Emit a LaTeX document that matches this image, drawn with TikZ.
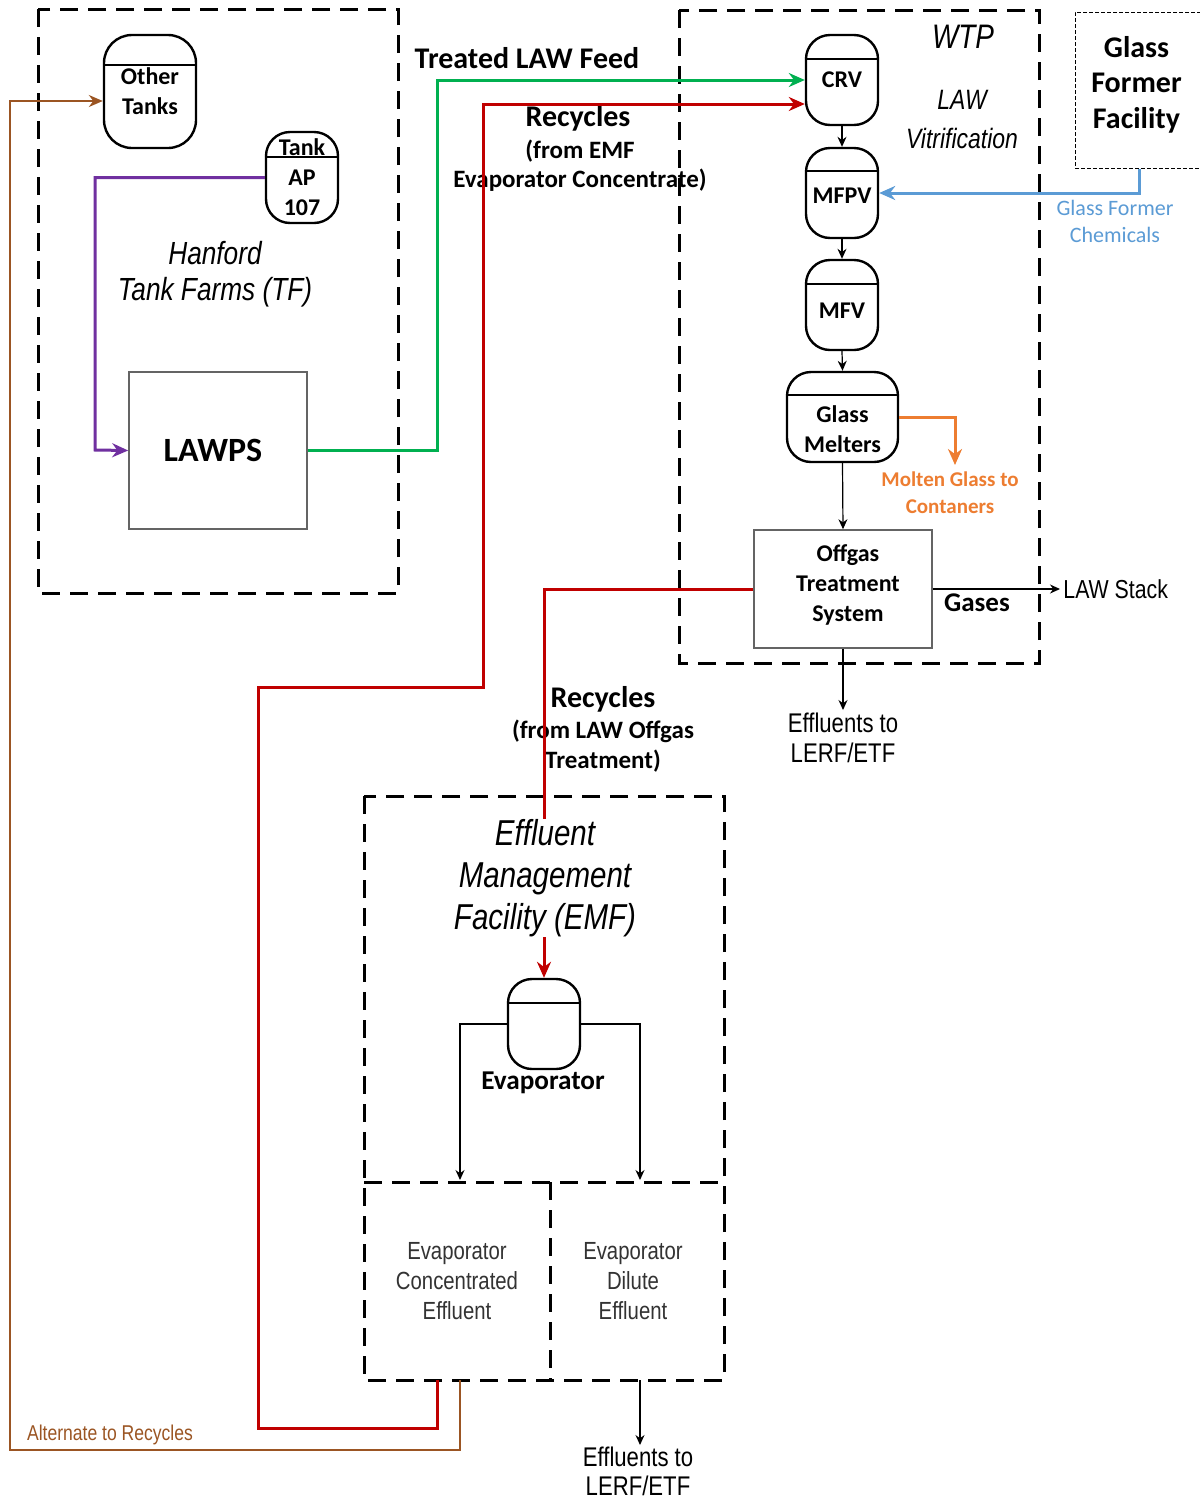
\documentclass[tikz,border=0pt]{standalone}
\usepackage{fontspec}
\setmainfont{Carlito}
\newfontfamily\narrow[FakeStretch=0.82]{Liberation Sans}
\usetikzlibrary{arrows.meta,calc}
\definecolor{cgreen}{RGB}{0,176,80}
\definecolor{cred}{RGB}{192,0,0}
\definecolor{cpurple}{RGB}{112,48,160}
\definecolor{cblue}{RGB}{91,155,213}
\definecolor{corange}{RGB}{237,125,49}
\definecolor{cbrown}{RGB}{155,85,35}
\definecolor{cgraybox}{RGB}{100,100,100}
\newcommand\fsz[2]{\fontsize{#1}{#2}\selectfont}
\newcommand\vesseldiv[2]{\draw[line width=1.2pt] ([yshift=-#2]#1.north west) -- ([yshift=-#2]#1.north east);}
\begin{document}
\begin{tikzpicture}[x=0.5pt,y=-0.5pt,
  bigdash/.style={line width=1.5pt, dash pattern=on 9pt off 5pt},
  vessel/.style={draw, line width=1.2pt, rounded corners=12pt, minimum width=36pt, minimum height=45pt, inner sep=0pt, fill=white},
  vlab/.style={font=\bfseries\fsz{12}{15}, align=center, inner sep=0pt},
  procbox/.style={draw=cgraybox, line width=0.8pt, inner sep=0pt, fill=white},
  flow/.style={line width=1.5pt, -{Stealth[length=8pt,width=7pt]}},
  thinarrow/.style={line width=0.6pt, -{Stealth[length=5pt,width=4.5pt]}},
  bold/.style={font=\bfseries\fsz{#1}{#1}, align=center, inner sep=0pt},
  txt/.style={align=center, inner sep=0pt}
]
\fill[white] (0,0) rectangle (1200,1500);
\useasboundingbox (0,0) rectangle (1200,1500);

% dashed facility boundaries
\draw[bigdash] (38,9) rectangle (398,593);
\draw[bigdash] (679,10) rectangle (1039,663);
\draw[bigdash] (364,796) rectangle (724,1380);
\draw[bigdash] (364,1182) -- (724,1182);
\draw[bigdash] (550,1182) -- (550,1380);

% Tank farms
\node[vessel, minimum width=46pt, minimum height=56.5pt, rounded corners=14pt,
  label={[vlab]center:{Other\\Tanks}}] (other) at (150,91.5) {};
\vesseldiv{other}{15.5pt}
\node[vessel, minimum width=36pt, minimum height=45.5pt,
  label={[vlab]center:{Tank\\AP\\107}}] (ap) at (302,177.5) {};
\vesseldiv{ap}{13pt}
\node[procbox, minimum width=89pt, minimum height=78.5pt,
  label={[bold=17, xshift=-2.5pt]center:LAWPS}] (lawps) at (218,450.5) {};
\node[txt, font=\narrow\itshape\fsz{16}{18}] (tftitle) at (215,274) {Hanford\\Tank Farms (TF)};

% WTP
\node[vessel, label={[vlab]center:CRV}] (crv) at (842,80) {};
\vesseldiv{crv}{12.5pt}
\node[vessel, label={[vlab,yshift=-1.5pt]center:MFPV}] (mfpv) at (842,193) {};
\vesseldiv{mfpv}{12pt}
\node[vessel, label={[vlab,yshift=-3pt]center:MFV}] (mfv) at (842,305) {};
\vesseldiv{mfv}{12.5pt}
\node[vessel, minimum width=55.5pt, label={[vlab,yshift=-6pt]center:{Glass\\Melters}}] (melt) at (842.5,417) {};
\vesseldiv{melt}{12pt}
\node[procbox, minimum width=89pt, minimum height=59pt,
  label={[vlab,xshift=2.5pt,yshift=2pt]center:{Offgas\\Treatment\\System}}] (offgas) at (843,589) {};
\node[txt, font=\narrow\itshape\fsz{17}{17}] (wtptitle) at (963,37) {WTP};
\node[txt, font=\narrow\itshape\fsz{14}{19.5}] (lawvit) at (962,119.5) {LAW\\Vitrification};

% Glass former facility
\node[draw, line width=0.5pt, dash pattern=on 2pt off 1pt, inner sep=0pt,
  minimum width=64.5pt, minimum height=78pt,
  label={[font=\bfseries\fsz{15}{17.75}, align=center, inner sep=0pt, xshift=-1.5pt, yshift=2.75pt]center:{Glass\\Former\\Facility}}] (gff) at (1139.5,90) {};

% EMF
\node[vessel] (evap) at (544,1024) {};
\vesseldiv{evap}{12.5pt}
\node[bold=13.6] (evaplab) at (543,1083) {Evaporator};
\node[txt, font=\narrow\fsz{12.4}{15}, text=black!80] (ecc) at (457,1281) {Evaporator\\Concentrated\\Effluent};
\node[txt, font=\narrow\fsz{12.4}{15}, text=black!80] (edc) at (633,1281) {Evaporator\\Dilute\\Effluent};
\coordinate (eccTop) at (460,1180);
\coordinate (edcTop) at (640,1180);
\coordinate (eccBot) at (437,1380);
\coordinate (altStart) at (460,1380);
\coordinate (edcBot) at (640,1380);

% free ends
\coordinate (gasEnd) at (1060,589);
\coordinate (eff1End) at (843,710);
\coordinate (eff2End) at (640,1445);
\coordinate (moltenEnd) at (955,465);

% labels
\node[bold=15] (tlf) at (527,58) {Treated LAW Feed};
\node[bold=15] (rec1) at (578,118) {Recycles};
\node[txt, font=\bfseries\fsz{12.5}{14.5}] (rec1b) at (580,165.5) {(from EMF\\Evaporator Concentrate)};
\node[bold=15] (rec2) at (603,699) {Recycles};
\node[txt, font=\bfseries\fsz{12.5}{15}] (rec2b) at (603,746) {(from LAW Offgas\\Treatment)};
\node[txt, font=\fsz{11}{13.5}, text=cblue] (gfc) at (1115,221.5) {Glass Former\\Chemicals};
\node[txt, font=\bfseries\fsz{10.5}{13.5}, text=corange] (molten) at (950,492.5) {Molten Glass to\\Contaners};
\node[bold=13.5] (gases) at (977,603) {Gases};
\node[txt, font=\narrow\fsz{13}{13}, anchor=west] (lawstack) at (1063,589) {LAW Stack};
\node[txt, font=\narrow\fsz{13.5}{15}] (eff1) at (843,738) {Effluents to\\LERF/ETF};
\node[txt, font=\narrow\fsz{13.5}{14.5}] (eff2) at (638,1471.5) {Effluents to\\LERF/ETF};
\node[txt, font=\narrow\fsz{10.7}{10.7}, text=cbrown] (alt) at (110,1435) {Alternate to Recycles};

% connectors
\draw[thinarrow] (crv.south) -- (mfpv.north);
\draw[thinarrow] (mfpv.south) -- (mfv.north);
\draw[thinarrow] (mfv.south) -- (melt.north);
\draw[thinarrow] (melt.south) -- (offgas.north);
\draw[thinarrow] (offgas.east) -- (gasEnd);
\draw[thinarrow] (offgas.south) -- (eff1End);
\draw[thinarrow] (evap.west) -| (eccTop);
\draw[thinarrow] (evap.east) -| (edcTop);
\draw[thinarrow] (edcBot) -- (eff2End);

\draw[flow, cpurple] (ap.west) -| (95,450) -- (lawps.west);
\draw[flow, cgreen] (lawps.east) -| (437,80) -- (crv.west);
\draw[flow, cred] (eccBot) |- (258,1428) |- (483,687) |- ($(crv.west)+(0,24)$);
\draw[flow, cred] (offgas.west) -| (evap.north);
\draw[flow, cblue] (gff.south) |- (mfpv.east);
\draw[flow, corange] (melt.east) -| (moltenEnd);
\draw[line width=0.8pt, cbrown, -{Stealth[length=7pt,width=6pt]}] (altStart) |- (10,1450) |- ($(other.west)+(0,9.5)$);

% EMF title on top of the recycle line
\node[txt, fill=white, font=\narrow\itshape\fsz{18}{21}] (emftitle) at (545,878) {Effluent\\Management\\Facility (EMF)};
\end{tikzpicture}
\end{document}
